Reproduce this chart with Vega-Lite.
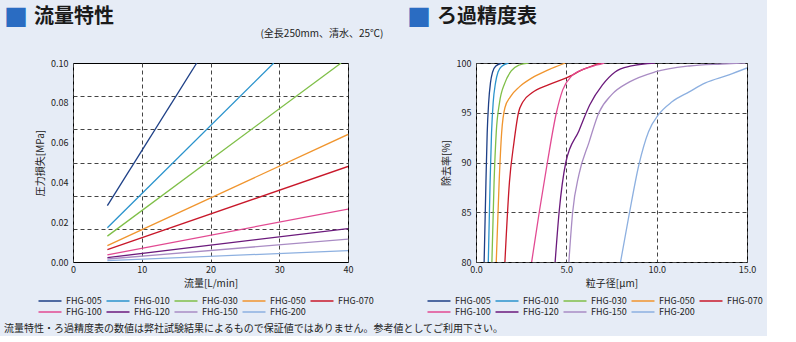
{
  "$schema": "https://vega.github.io/schema/vega-lite/v6.json",
  "background": "#e6ecf6",
  "padding": {"left": 4, "top": 6, "right": 4, "bottom": 2},
  "config": {
    "font": "Noto Sans CJK JP",
    "view": {"stroke": "#000", "strokeWidth": 1, "fill": "#ffffff"},
    "axis": {
      "labelFontSize": 9, "titleFontSize": 10, "titleFontWeight": "normal",
      "labelColor": "#222", "titleColor": "#222", "domain": false, "ticks": false, "labelFlush": false,
      "gridColor": "#444", "gridDash": [4, 3], "gridWidth": 1, "labelPadding": 5
    },
    "axisX": {"labelPadding": 3, "titlePadding": 4},
    "axisY": {"titlePadding": 5},
    "legend": {
      "orient": "bottom", "direction": "horizontal", "columns": 5, "title": null,
      "symbolType": "M-2.3,0H2.3", "symbolSize": 100, "symbolStrokeWidth": 1.5,
      "labelFontSize": 9, "labelColor": "#222", "columnPadding": 1, "rowPadding": 0, "labelOffset": 10,
      "offset": 6, "padding": 0,
      "layout": {"bottom": {"anchor": "middle"}}
    },
    "title": {"anchor": "start", "frame": "bounds"}
  },
  "datasets": {
    "flow": [
      {"model": "FHG-005", "q": 5, "dp": 0.0283}, {"model": "FHG-005", "q": 18.0, "dp": 0.10},
      {"model": "FHG-010", "q": 5, "dp": 0.0172}, {"model": "FHG-010", "q": 29.2, "dp": 0.10},
      {"model": "FHG-030", "q": 5, "dp": 0.0130}, {"model": "FHG-030", "q": 39.0, "dp": 0.10},
      {"model": "FHG-050", "q": 5, "dp": 0.0082}, {"model": "FHG-050", "q": 40, "dp": 0.0641},
      {"model": "FHG-070", "q": 5, "dp": 0.0062}, {"model": "FHG-070", "q": 40, "dp": 0.0480},
      {"model": "FHG-100", "q": 5, "dp": 0.0036}, {"model": "FHG-100", "q": 40, "dp": 0.0266},
      {"model": "FHG-120", "q": 5, "dp": 0.0022}, {"model": "FHG-120", "q": 40, "dp": 0.0168},
      {"model": "FHG-150", "q": 5, "dp": 0.0015}, {"model": "FHG-150", "q": 40, "dp": 0.0115},
      {"model": "FHG-200", "q": 5, "dp": 0.0007}, {"model": "FHG-200", "q": 40, "dp": 0.0057}
    ],
    "filt": [
      {"model": "FHG-005", "d": 0.45, "r": 80}, {"model": "FHG-005", "d": 0.55, "r": 88}, {"model": "FHG-005", "d": 0.62, "r": 93}, {"model": "FHG-005", "d": 0.70, "r": 96}, {"model": "FHG-005", "d": 0.80, "r": 98}, {"model": "FHG-005", "d": 0.92, "r": 99.1}, {"model": "FHG-005", "d": 1.1, "r": 99.7}, {"model": "FHG-005", "d": 1.45, "r": 100},
      {"model": "FHG-010", "d": 0.68, "r": 80}, {"model": "FHG-010", "d": 0.78, "r": 88}, {"model": "FHG-010", "d": 0.86, "r": 93}, {"model": "FHG-010", "d": 0.95, "r": 96}, {"model": "FHG-010", "d": 1.08, "r": 98}, {"model": "FHG-010", "d": 1.22, "r": 99.1}, {"model": "FHG-010", "d": 1.45, "r": 99.7}, {"model": "FHG-010", "d": 1.8, "r": 100},
      {"model": "FHG-030", "d": 0.88, "r": 80}, {"model": "FHG-030", "d": 1.0, "r": 88}, {"model": "FHG-030", "d": 1.12, "r": 93}, {"model": "FHG-030", "d": 1.3, "r": 96}, {"model": "FHG-030", "d": 1.6, "r": 98}, {"model": "FHG-030", "d": 1.95, "r": 99.2}, {"model": "FHG-030", "d": 2.4, "r": 99.8}, {"model": "FHG-030", "d": 2.9, "r": 100},
      {"model": "FHG-050", "d": 1.12, "r": 80}, {"model": "FHG-050", "d": 1.28, "r": 88}, {"model": "FHG-050", "d": 1.42, "r": 93}, {"model": "FHG-050", "d": 1.6, "r": 95.5}, {"model": "FHG-050", "d": 1.9, "r": 96.6}, {"model": "FHG-050", "d": 2.4, "r": 97.6}, {"model": "FHG-050", "d": 3.1, "r": 98.5}, {"model": "FHG-050", "d": 4.0, "r": 99.3}, {"model": "FHG-050", "d": 4.95, "r": 100},
      {"model": "FHG-070", "d": 1.6, "r": 80}, {"model": "FHG-070", "d": 1.85, "r": 88}, {"model": "FHG-070", "d": 2.1, "r": 92}, {"model": "FHG-070", "d": 2.35, "r": 95}, {"model": "FHG-070", "d": 2.6, "r": 96.1}, {"model": "FHG-070", "d": 3.1, "r": 97}, {"model": "FHG-070", "d": 4.0, "r": 97.8}, {"model": "FHG-070", "d": 5.0, "r": 98.5}, {"model": "FHG-070", "d": 6.0, "r": 99.4}, {"model": "FHG-070", "d": 6.9, "r": 100},
      {"model": "FHG-100", "d": 3.08, "r": 80}, {"model": "FHG-100", "d": 3.5, "r": 85}, {"model": "FHG-100", "d": 3.95, "r": 90}, {"model": "FHG-100", "d": 4.45, "r": 95}, {"model": "FHG-100", "d": 4.8, "r": 97.3}, {"model": "FHG-100", "d": 5.3, "r": 98.7}, {"model": "FHG-100", "d": 6.0, "r": 99.4}, {"model": "FHG-100", "d": 6.7, "r": 99.8}, {"model": "FHG-100", "d": 7.1, "r": 100},
      {"model": "FHG-120", "d": 4.38, "r": 80}, {"model": "FHG-120", "d": 4.6, "r": 85}, {"model": "FHG-120", "d": 4.97, "r": 90}, {"model": "FHG-120", "d": 5.7, "r": 93.2}, {"model": "FHG-120", "d": 6.3, "r": 95.8}, {"model": "FHG-120", "d": 7.0, "r": 97.8}, {"model": "FHG-120", "d": 7.7, "r": 99.1}, {"model": "FHG-120", "d": 8.6, "r": 99.7}, {"model": "FHG-120", "d": 9.9, "r": 100},
      {"model": "FHG-150", "d": 5.14, "r": 80}, {"model": "FHG-150", "d": 5.35, "r": 85}, {"model": "FHG-150", "d": 5.7, "r": 88.8}, {"model": "FHG-150", "d": 6.25, "r": 92}, {"model": "FHG-150", "d": 6.8, "r": 95}, {"model": "FHG-150", "d": 7.5, "r": 96.8}, {"model": "FHG-150", "d": 8.5, "r": 98.1}, {"model": "FHG-150", "d": 9.9, "r": 99.1}, {"model": "FHG-150", "d": 11.8, "r": 99.7}, {"model": "FHG-150", "d": 13.6, "r": 99.9}, {"model": "FHG-150", "d": 14.9, "r": 100},
      {"model": "FHG-200", "d": 8.0, "r": 80}, {"model": "FHG-200", "d": 8.47, "r": 84.7}, {"model": "FHG-200", "d": 9.02, "r": 89.8}, {"model": "FHG-200", "d": 9.55, "r": 93.1}, {"model": "FHG-200", "d": 10.1, "r": 94.8}, {"model": "FHG-200", "d": 10.85, "r": 96.1}, {"model": "FHG-200", "d": 11.8, "r": 97.1}, {"model": "FHG-200", "d": 12.7, "r": 98.0}, {"model": "FHG-200", "d": 14.0, "r": 98.8}, {"model": "FHG-200", "d": 15.0, "r": 99.5}
    ]
  },
  "title": {
    "text": "流量特性・ろ過精度表の数値は弊社試験結果によるもので保証値ではありません。参考値としてご利用下さい。",
    "orient": "bottom", "anchor": "start", "fontSize": 10, "fontWeight": "normal", "color": "#222", "offset": 7
  },
  "spacing": 23,
  "resolve": {"scale": {"color": "independent"}, "legend": {"color": "independent"}},
  "hconcat": [
    {
      "title": {
        "text": "■", "color": "#2a6cc2", "fontSize": 24, "dx": -31, "offset": -2,
        "subtitle": "\u200b\u3000\u2002流量特性", "subtitleFontSize": 20, "subtitleFontWeight": "bold", "subtitleColor": "#1a1a1a", "subtitlePadding": -24
      },
      "vconcat": [
        {
          "title": {"text": "(全長250mm、清水、25℃)", "anchor": "end", "fontSize": 10, "fontWeight": "normal", "color": "#222", "dx": 30, "offset": 20},
          "vconcat": [
            {
              "width": 275, "height": 199,
              "data": {"name": "flow"},
              "mark": {"type": "line", "strokeWidth": 1.3, "clip": true},
              "encoding": {
                "x": {"field": "q", "type": "quantitative", "scale": {"domain": [0, 40], "nice": false},
                      "axis": {"title": "流量[L/min]", "values": [0, 10, 20, 30, 40]}},
                "y": {"field": "dp", "type": "quantitative", "scale": {"domain": [0, 0.1], "nice": false},
                      "axis": {"title": "圧力損失[MPa]", "values": [0, 0.0166667, 0.02, 0.0333333, 0.04, 0.05, 0.06, 0.0666667, 0.08, 0.0833333, 0.1],
                               "labelOverlap": false,
                               "labelExpr": "abs(datum.value*50 - round(datum.value*50)) < 0.001 ? format(datum.value, '.2f') : ''",
                               "gridOpacity": {"condition": {"test": "abs(datum.value*50 - round(datum.value*50)) < 0.001", "value": 0}, "value": 1}}},
                "color": {"field": "model", "type": "nominal",
                          "scale": {"domain": ["FHG-005", "FHG-010", "FHG-030", "FHG-050", "FHG-070", "FHG-100", "FHG-120", "FHG-150", "FHG-200"],
                                    "range": ["#1d3f86", "#2a93cc", "#7fbf48", "#f0952e", "#c8182a", "#e24a92", "#6b1a7c", "#a98cc4", "#8db0e0"]}}
              }
            }
          ]
        }
      ]
    },
    {
      "title": {
        "text": "■", "color": "#2a6cc2", "fontSize": 24, "dx": -26, "offset": -2,
        "subtitle": "\u200b\u3000\u2002ろ過精度表", "subtitleFontSize": 20, "subtitleFontWeight": "bold", "subtitleColor": "#1a1a1a", "subtitlePadding": -24
      },
      "vconcat": [
        {
          "title": {"text": "\u200b", "anchor": "end", "fontSize": 10, "offset": 20},
          "vconcat": [
            {
              "width": 271, "height": 199,
              "data": {"name": "filt"},
              "mark": {"type": "line", "strokeWidth": 1.3, "interpolate": "monotone", "clip": true},
              "encoding": {
                "x": {"field": "d", "type": "quantitative", "scale": {"domain": [0, 15], "nice": false},
                      "axis": {"title": "粒子径[μm]", "values": [0, 5, 10, 15], "format": ".1f"}},
                "y": {"field": "r", "type": "quantitative", "scale": {"domain": [80, 100], "nice": false, "zero": false},
                      "axis": {"title": "除去率[%]", "values": [80, 85, 90, 95, 100], "grid": true}},
                "color": {"field": "model", "type": "nominal",
                          "scale": {"domain": ["FHG-005", "FHG-010", "FHG-030", "FHG-050", "FHG-070", "FHG-100", "FHG-120", "FHG-150", "FHG-200"],
                                    "range": ["#1d3f86", "#2a93cc", "#7fbf48", "#f0952e", "#c8182a", "#e24a92", "#6b1a7c", "#a98cc4", "#8db0e0"]}}
              }
            }
          ]
        }
      ]
    }
  ]
}
